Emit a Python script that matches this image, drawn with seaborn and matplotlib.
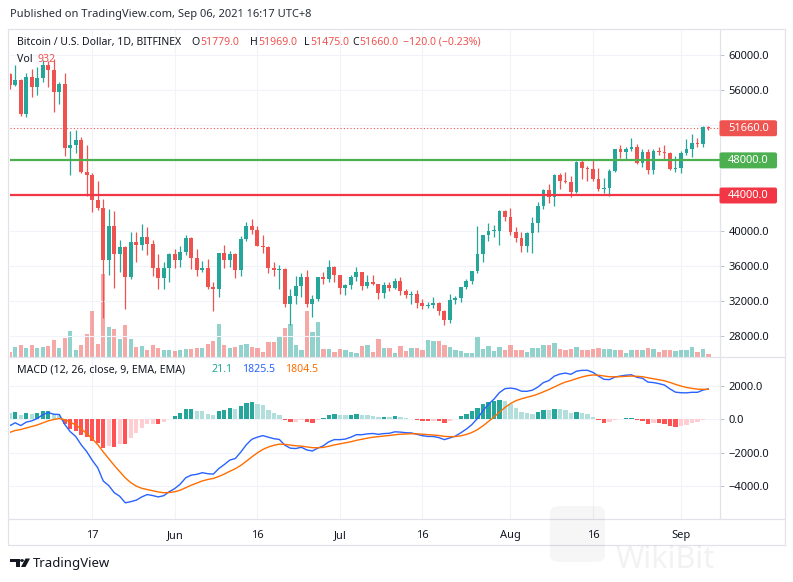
import numpy as np
import pandas as pd
import matplotlib
matplotlib.use("Agg")
import matplotlib.pyplot as plt
import matplotlib.dates as mdates
from matplotlib.lines import Line2D
from matplotlib.patches import FancyBboxPatch, Polygon, Circle
import seaborn as sns

# daily candles, BITFINEX BTC/USD, 2021-05-02 .. 2021-09-06
dates = pd.date_range("2021-05-02", "2021-09-06", freq="D")

opens = [
    57800, 56600, 57200, 53300, 57500, 56400, 57400, 58900, 58300, 55800, 56700, 49400, 49700, 50300, 46700,
    46300, 43500, 42600, 36700, 40500, 37300, 38100, 34700, 38700, 38400, 39300, 38500, 35700, 34600, 35700,
    37300, 36700, 37600, 39200, 36900, 35500, 35800, 33600, 33400, 37400, 36700, 37300, 35500, 39100, 40500,
    40100, 38300, 38100, 35800, 35500, 35600, 31600, 32500, 33700, 34700, 31600, 32200, 34700, 34500, 35900,
    35000, 33500, 33800, 34700, 35300, 33700, 34200, 33900, 32900, 33800, 33500, 34300, 33100, 32700, 32800,
    31800, 31400, 31500, 31800, 30800, 29800, 32100, 32300, 33600, 34300, 35400, 37300, 39500, 40000, 40000,
    42200, 41500, 39900, 39200, 38200, 39700, 40900, 42800, 44600, 43800, 46300, 45600, 45500, 44400, 47800,
    47100, 47000, 45900, 44700, 44800, 46800, 49300, 48900, 49300, 49500, 47700, 48900, 46900, 49100, 48900,
    48800, 47000, 47100, 48800, 49300, 50000, 49900, 51779]
highs = [
    57900, 58900, 57300, 57900, 58400, 58600, 59400, 59300, 59500, 56900, 57900, 51300, 51500, 50700, 49700,
    46600, 45700, 43600, 42500, 42200, 38900, 38300, 39900, 39800, 40800, 40400, 38900, 37300, 36400, 37500,
    37900, 38200, 39500, 39300, 37900, 36500, 36800, 34100, 37500, 38400, 37700, 37500, 39400, 41000, 41300,
    40500, 39500, 38200, 36400, 36100, 35700, 33300, 34800, 35200, 35500, 32700, 34700, 35300, 36600, 36000,
    35000, 33900, 34900, 35900, 35300, 35000, 35000, 33900, 34100, 34200, 34600, 34700, 33300, 33100, 33200,
    32200, 31900, 32400, 31900, 31000, 32800, 32600, 33600, 34500, 35400, 40500, 39500, 40900, 40600, 42300,
    42400, 42600, 40400, 39800, 39900, 41500, 43300, 44700, 45300, 46500, 46600, 46700, 46200, 47900, 48100,
    47400, 48000, 47100, 46000, 47000, 49300, 49700, 49500, 50500, 49900, 49300, 49300, 49300, 49500, 49800,
    48900, 48500, 49100, 50400, 51000, 50500, 51900, 51969]
lows = [
    56100, 56500, 53100, 52900, 55200, 55400, 56900, 56300, 53500, 54400, 48500, 46300, 48800, 46600, 43900,
    42100, 42300, 30000, 34900, 33500, 35300, 31100, 34500, 36400, 37800, 37200, 34800, 33400, 33400, 34200,
    35700, 35900, 37200, 35600, 34800, 35300, 33300, 30800, 32400, 35800, 35900, 34600, 34800, 38800, 39600,
    38200, 37400, 35200, 34800, 33400, 31300, 29300, 31700, 32400, 31300, 30200, 32000, 33900, 34200, 34100,
    32800, 32700, 33300, 34300, 33200, 33500, 33800, 32200, 32300, 33100, 33300, 32700, 32300, 31600, 31200,
    31100, 31200, 31200, 30400, 29300, 29500, 31700, 31900, 33400, 33900, 35200, 36400, 38800, 39300, 38400,
    41100, 39500, 38700, 37600, 37600, 37400, 39900, 42500, 43100, 42800, 44700, 45400, 43800, 44300, 45900,
    45600, 45700, 44500, 44300, 43900, 46700, 48300, 48100, 49100, 47600, 47200, 46400, 46400, 48600, 48100,
    46900, 46700, 46600, 48600, 48400, 49500, 49500, 51475]
closes = [
    56600, 57200, 53300, 57500, 56400, 57400, 58900, 58300, 55800, 56700, 49400, 49700, 50300, 46700, 46300,
    43500, 42600, 36700, 40500, 37300, 38100, 34700, 38700, 38400, 39300, 38500, 35700, 34600, 35700, 37300,
    36700, 37600, 39200, 36900, 35500, 35800, 33600, 33400, 37400, 36700, 37300, 35500, 39100, 40500, 40100,
    38300, 38100, 35800, 35500, 35600, 31600, 32500, 33700, 34700, 31600, 32200, 34700, 34500, 35900, 35000,
    33500, 33800, 34700, 35300, 33700, 34200, 33900, 32900, 33800, 33500, 34300, 33100, 32700, 32800, 31800,
    31400, 31500, 31800, 30800, 29800, 32100, 32300, 33600, 34300, 35400, 37300, 39500, 40000, 40000, 42200,
    41500, 39900, 39200, 38200, 39700, 40900, 42800, 44600, 43800, 46300, 45600, 45500, 44400, 47800, 47100,
    47000, 45900, 44700, 44800, 46800, 49300, 48900, 49300, 49500, 47700, 48900, 46900, 49100, 48900, 48800,
    47000, 47100, 48800, 49300, 50000, 49900, 51800, 51660]
volumes = [
    1500, 3000, 3600, 2700, 3600, 2700, 3000, 3300, 5100, 2700, 5700, 7800, 2100, 3600, 6900,
    13800, 3900, 24900, 9000, 8400, 5400, 9600, 5400, 3000, 3300, 2100, 3600, 2700, 2100, 2100,
    1800, 2000, 2500, 2500, 2800, 2800, 3900, 4900, 9900, 3600, 2800, 3100, 3600, 3900, 3000,
    2700, 1500, 4600, 4600, 6300, 8700, 9900, 3600, 2200, 13800, 7500, 10500, 2500, 2500, 1500,
    2500, 2200, 1500, 1200, 3200, 3700, 1500, 5400, 2800, 2800, 1200, 3300, 1900, 2600, 2800,
    2200, 5100, 4800, 4800, 3500, 3000, 2200, 1800, 1200, 1200, 6000, 2500, 3200, 1900, 3000,
    2100, 3600, 2000, 2200, 1400, 2600, 2700, 3500, 3500, 4200, 2500, 2000, 2300, 3100, 2000,
    2200, 2300, 2700, 2300, 2300, 2200, 2200, 1200, 2000, 2200, 2000, 2600, 2300, 1400, 2000,
    2000, 1700, 2200, 2200, 3000, 1400, 2400, 932]

# MACD state on the first visible day
ema12_start = 55315
ema26_start = 55700
signal_start = -785

levels = [48000, 44000]
level_colors = ["#4caf50", "#f23645"]
price_ticks = [28000, 32000, 36000, 40000, 44000, 48000, 52000, 56000, 60000]
macd_ticks = [-4000, -2000, 0, 2000]
date_ticks = ["2021-05-17", "2021-06-01", "2021-06-16", "2021-07-01",
              "2021-07-16", "2021-08-01", "2021-08-16", "2021-09-01"]
date_labels = ["17", "Jun", "16", "Jul", "16", "Aug", "16", "Sep"]

UP, DOWN = "#26a69a", "#ef5350"
GRID = "#f0f3fa"
BORDER = "#e0e3eb"
TEXT = "#131722"

sns.set_theme(style="white")
plt.rcParams["font.family"] = ["Noto Sans", "DejaVu Sans"]

W, H = 793, 582
fig = plt.figure(figsize=(W / 100, H / 100), dpi=100)
fig.patch.set_facecolor("white")


def fx(px):
    return px / W


def fy(py):
    return 1 - py / H


rect_price = [fx(10), fy(357), fx(720) - fx(10), fy(30) - fy(357)]
rect_macd = [fx(10), fy(519), fx(720) - fx(10), fy(357) - fy(519)]
axv = fig.add_axes(rect_price)
ax = fig.add_axes(rect_price, sharex=axv)
axm = fig.add_axes(rect_macd, sharex=axv)
ax.patch.set_alpha(0)

x = mdates.date2num(dates)
o, h, l, c = (np.array(a, dtype=float) for a in (opens, highs, lows, closes))
up = c >= o
cols = np.where(up, UP, DOWN)

# volume
axv.bar(x, volumes, width=0.8, color=cols, alpha=0.5, linewidth=0)
axv.set_ylim(0, 98000)
axv.set_yticks([])

# candles
ax.vlines(x, l, h, colors=cols, linewidth=0.9, zorder=3)
body = np.maximum(np.abs(c - o), 60)
ax.bar(x, body, bottom=np.minimum(o, c), width=0.68, color=cols, linewidth=0, zorder=4)

for lv, lc in zip(levels, level_colors):
    ax.axhline(lv, color=lc, linewidth=1.6, zorder=5)
ax.axhline(closes[-1], color=DOWN, linewidth=0.8, linestyle=(0, (1, 2)), zorder=2)

# MACD (12, 26, close, 9)
e12, e26, sig = ema12_start, ema26_start, signal_start
macd, signal = [], []
for i, cl in enumerate(closes):
    if i > 0:
        e12 += (cl - e12) * 2 / 13
        e26 += (cl - e26) * 2 / 27
        m = e12 - e26
        sig += (m - sig) * 2 / 10
    macd.append(e12 - e26)
    signal.append(sig)
macd = np.array(macd)
signal = np.array(signal)
hist = macd - signal
prev = np.concatenate([[hist[0]], hist[:-1]])
hcols = np.where(hist >= 0,
                 np.where(hist > prev, "#26a69a", "#b2dfdb"),
                 np.where(hist < prev, "#ff5252", "#ffcdd2"))
axm.bar(x, hist, width=0.8, color=hcols, linewidth=0, zorder=2)
mdf = pd.DataFrame({"date": x, "macd": macd, "signal": signal})
sns.lineplot(data=mdf, x="date", y="macd", ax=axm, color="#2962ff", linewidth=1.0, zorder=3)
sns.lineplot(data=mdf, x="date", y="signal", ax=axm, color="#ff6d00", linewidth=1.0, zorder=3)
axm.set_xlabel("")
axm.set_ylabel("")

# axes styling
axv.set_xlim(x[0] + 0.05, x[0] + 129.1)
ax.set_ylim(25608, 62847)
axm.set_ylim(-5980, 3740)

tick_x = mdates.date2num(pd.to_datetime(date_ticks))
axm.set_xticks(tick_x)
axm.set_xticklabels(date_labels)

ax.set_yticks(price_ticks)
ax.set_yticklabels([f"{v:.1f}" for v in price_ticks])
axm.set_yticks(macd_ticks)
axm.set_yticklabels([f"{v:.1f}".replace("-", "\u2212") for v in macd_ticks])

for a in (ax, axm):
    a.yaxis.tick_right()
    a.tick_params(axis="y", length=3, width=0.6, color="#b2b5be", pad=3,
                  labelsize=8, labelcolor=TEXT)
    a.grid(True, axis="y", color=GRID, linewidth=0.8)
for a in (axv, axm):
    a.grid(True, axis="x", color=GRID, linewidth=0.8)
ax.grid(False, axis="x")
axm.tick_params(axis="x", length=0, pad=8, labelsize=8, labelcolor=TEXT)
for a in (ax, axv):
    a.tick_params(axis="x", bottom=False, labelbottom=False)
for a in (ax, axv, axm):
    for s in a.spines.values():
        s.set_visible(False)
    a.set_axisbelow(True)

# frame and separators
frame = [((8, 785), (29, 29)), ((8, 785), (545, 545)), ((8, 8), (29, 545)),
         ((785, 785), (29, 545)), ((8, 785), (357, 357)), ((8, 785), (519, 519)),
         ((720, 720), (29, 519))]
for xs, ys in frame:
    fig.add_artist(Line2D([fx(xs[0]), fx(xs[1])], [fy(ys[0]), fy(ys[1])],
                          color=BORDER, linewidth=0.9, zorder=0.5))

# axis price tags
fig.canvas.draw()
renderer = fig.canvas.get_renderer()
tags = [(closes[-1], DOWN), (levels[0], level_colors[0]), (levels[1], level_colors[1])]
for val, colr in tags:
    ypix = ax.transData.transform((x[0], val))[1]
    fig.add_artist(FancyBboxPatch((fx(719.5), (ypix - 8) / H), fx(777) - fx(719.5), 16 / H,
                                  boxstyle="round,pad=0,rounding_size=0.003",
                                  transform=fig.transFigure, fc=colr, ec="none", zorder=3))
    fig.text(fx(748.5), ypix / H, f"{val:.1f}", color="white", fontsize=8,
             ha="center", va="center", zorder=4)


def text_run(x0, ypx, parts, size, gap=1):
    # lay pieces out one after another so they never collide
    xpos = x0
    for txt, colr in parts:
        t = fig.text(fx(xpos), fy(ypx), txt, fontsize=size, color=colr, va="center")
        bb = t.get_window_extent(renderer)
        xpos = bb.x1 + gap


# header texts
fig.text(fx(10), fy(15), "Published on TradingView.com, Sep 06, 2021 16:17 UTC+8",
         fontsize=8, color="#2a2e39", va="center")
text_run(17, 42.5, [("Bitcoin / U.S. Dollar, 1D, BITFINEX", TEXT)], 7.5)
for px, letter, val in [(191, "O", "51779.0"), (250, "H", "51969.0"),
                        (304, "L", "51475.0"), (352, "C", "51660.0")]:
    text_run(px, 42.5, [(letter, TEXT), (val, DOWN)], 7.6)
text_run(403, 42.5, [("\u2212120.0 (\u22120.23%)", DOWN)], 7.6)
text_run(17, 59, [("Vol", TEXT), ("932", DOWN)], 7.6, gap=5)
text_run(17, 370, [("MACD (12, 26, close, 9, EMA, EMA)", TEXT)], 7.6)
for px, txt, colr in [(211, "21.1", "#26a69a"), (242, "1825.5", "#2962ff"),
                      (285, "1804.5", "#ff6d00")]:
    text_run(px, 370, [(txt, colr)], 7.6)

# faint watermark
fig.add_artist(FancyBboxPatch((fx(550), fy(562)), fx(605) - fx(550), fy(506) - fy(562),
                              boxstyle="round,pad=0,rounding_size=0.012",
                              transform=fig.transFigure, fc="black", alpha=0.035,
                              ec="none", zorder=6))
fig.text(fx(616), fy(560), "WikiBit", fontsize=22, fontweight="bold", color="black",
         alpha=0.05, va="center", zorder=6)

# footer logo + name
logo = [Polygon([(10, 558.5), (19.5, 558.5), (19.5, 567), (15.5, 567), (15.5, 562), (10, 562)]),
        Circle((22, 560.5), 1.8),
        Polygon([(25.5, 558.5), (30, 558.5), (25.5, 567), (21, 567)])]
for p in logo:
    p.set_transform(fig.transFigure)
    if isinstance(p, Circle):
        p.center = (fx(22), fy(560.5))
        p.set_radius(1.9 / W)
    else:
        p.set_xy([(fx(a), fy(b)) for a, b in p.get_xy()])
    p.set_facecolor(TEXT)
    p.set_edgecolor("none")
    fig.add_artist(p)
fig.text(fx(33), fy(564), "TradingView", fontsize=9.5, color=TEXT, va="center")

fig.savefig("out.png", dpi=100)
